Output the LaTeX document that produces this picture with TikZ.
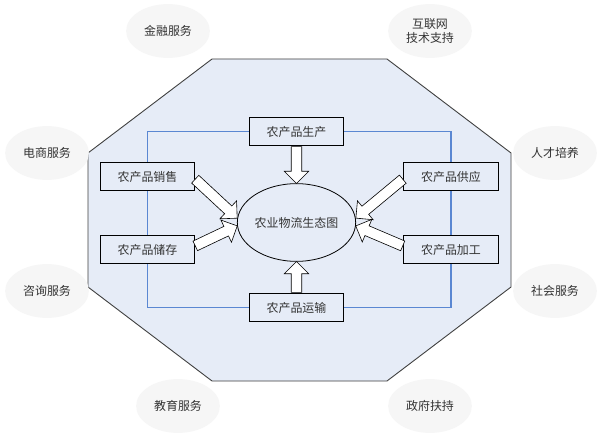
\documentclass[tikz,border=0pt]{standalone}
\usepackage{fontspec}
\newfontfamily\cjk{Noto Sans CJK SC}
\usetikzlibrary{shapes.geometric,shapes.arrows,calc}
\definecolor{octfill}{HTML}{E6ECF7}
\definecolor{octline}{HTML}{404040}
\definecolor{bluel}{RGB}{90,135,210}
\definecolor{cloud}{HTML}{F6F6F6}
\definecolor{txt}{HTML}{333333}
\tikzset{
  lbl/.style={font=\cjk\fontsize{12}{14}\selectfont, text=txt},
  outer/.style={lbl, ellipse, fill=cloud, minimum width=84pt, minimum height=54pt, inner sep=0pt, align=center},
  boxn/.style={lbl, draw=black, line width=0.9pt, fill=octfill, minimum width=95pt, minimum height=29pt, inner sep=0pt},
  bluelink/.style={draw=bluel, line width=1.5pt},
  barrow/.style={single arrow, draw=black, line width=0.6pt, fill=white, inner sep=5pt,
    single arrow head extend=7pt, single arrow tip angle=90, anchor=tail},
}
\newcommand\blockarrow[2]{%
  \path let \p1=(#1), \p2=(#2), \n1={atan2(\y2-\y1,\x2-\x1)}, \n2={veclen(\x2-\x1,\y2-\y1)} in
    node[barrow, minimum height=\n2, rotate=\n1] at (\p1) {};
}
\begin{document}
\begin{tikzpicture}[x=1bp,y=-1bp]
\useasboundingbox (0,0) rectangle (600,437);
\fill[white] (0,0) rectangle (600,437);
% octagon
\draw[octline, line width=0.9pt, fill=octfill]
  (212,59) -- (387,59) -- (511,153) -- (511,287) -- (387,381) -- (212,381) -- (88,287) -- (88,153) -- cycle;
% outer ellipses
\node[outer] (jr) at (168,31) {金融服务};
\node[outer] (hl) at (430,31) {互联网\\技术支持};
\node[outer] (ds) at (47,153) {电商服务};
\node[outer] (rc) at (555,153) {人才培养};
\node[outer] (zx) at (47,291) {咨询服务};
\node[outer] (sh) at (555,291) {社会服务};
\node[outer] (jy) at (178,406) {教育服务};
\node[outer] (zf) at (430,406) {政府扶持};
% boxes
\node[boxn] (sc) at (296.5,131.5) {农产品生产};
\node[boxn] (xs) at (147.5,176.5) {农产品销售};
\node[boxn] (gy) at (451,176.5) {农产品供应};
\node[boxn] (cc) at (147.5,249.5) {农产品储存};
\node[boxn] (jg) at (451,249.5) {农产品加工};
\node[boxn] (ys) at (296.5,307.5) {农产品运输};
% blue connectors
\draw[bluelink] (sc.west) -| (xs.north);
\draw[bluelink] (xs.south) -- (cc.north);
\draw[bluelink] (cc.south) |- (ys.west);
\draw[bluelink] (ys.east) -| (jg.south);
\draw[bluelink] (jg.north) -- (gy.south);
\draw[bluelink] (gy.north) |- (sc.east);
% center ellipse
\node[lbl, ellipse, draw=black, line width=0.8pt, fill=octfill, minimum width=117pt, minimum height=78pt, inner sep=0pt] (eco) at (296.5,222.5) {农业物流生态图};
% arrow ends
\coordinate (t1) at (195,179);
\coordinate (h1) at (237,218);
\coordinate (t2) at (195,246);
\coordinate (h2) at (237,226);
\coordinate (t3) at (403,179);
\coordinate (h3) at (356,218);
\coordinate (t4) at (403,246);
\coordinate (h4) at (356,226);
\blockarrow{sc.south}{eco.north}
\blockarrow{ys.north}{eco.south}
\blockarrow{t1}{h1}
\blockarrow{t2}{h2}
\blockarrow{t3}{h3}
\blockarrow{t4}{h4}
\end{tikzpicture}
\end{document}
